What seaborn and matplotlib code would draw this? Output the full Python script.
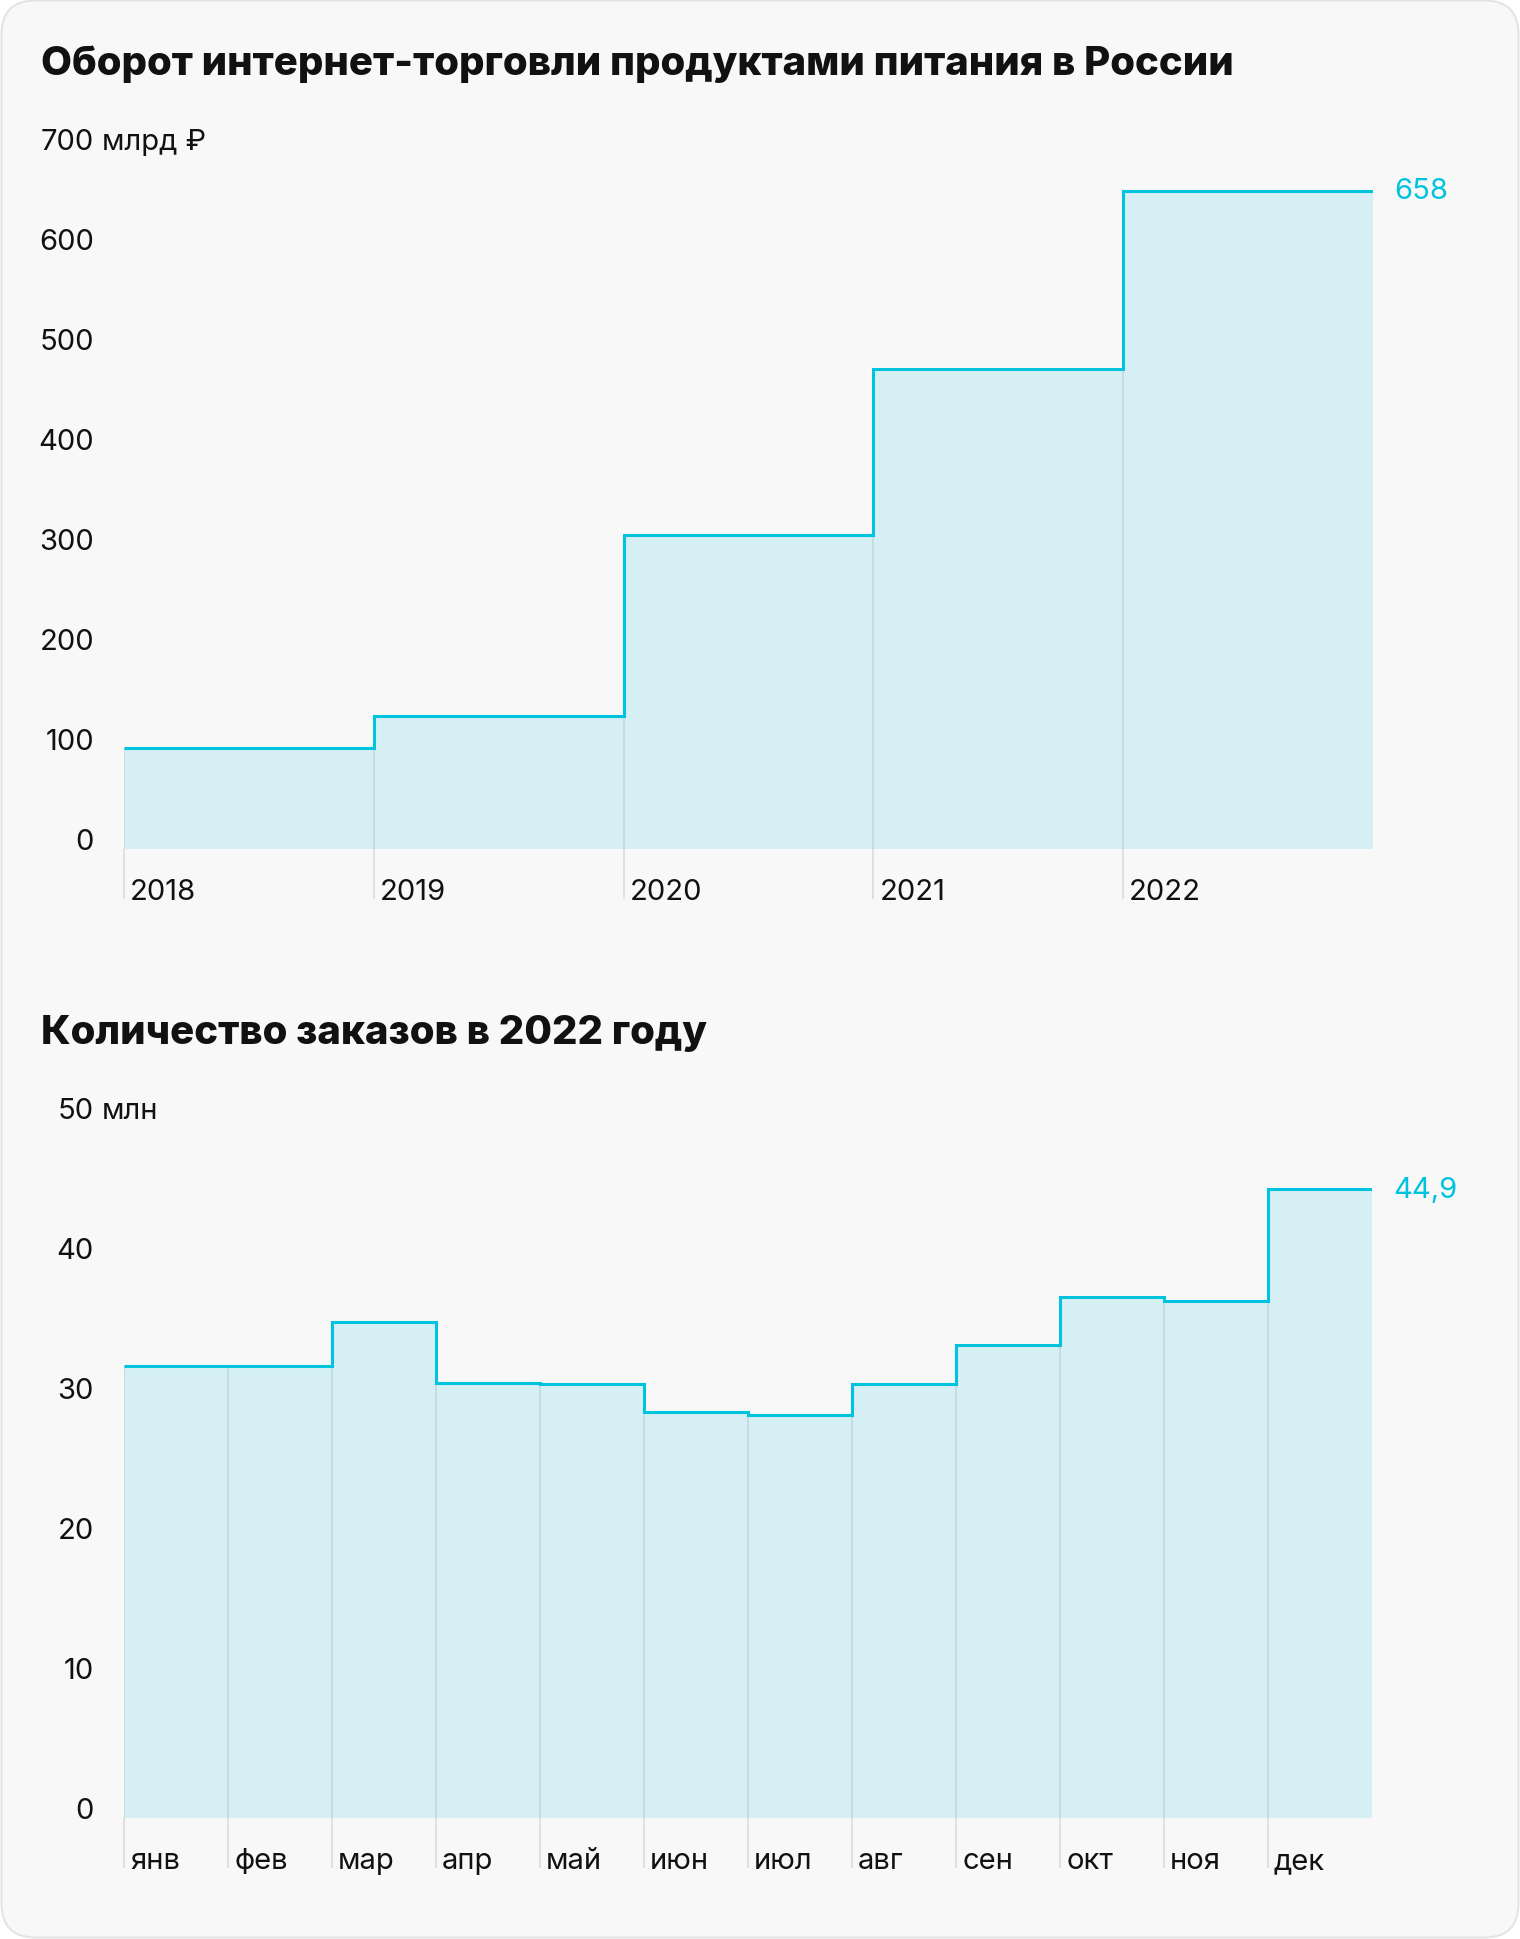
import numpy as np
import pandas as pd
import matplotlib
matplotlib.use("Agg")
import matplotlib.pyplot as plt
import seaborn as sns
from matplotlib.patches import FancyBboxPatch
from matplotlib.transforms import ScaledTranslation, offset_copy, IdentityTransform

# ---------------- data ----------------
title_top = "Оборот интернет-торговли продуктами питания в России"
years = ["2018", "2019", "2020", "2021", "2022"]
turnover = [101, 133, 314, 480, 658]
top_ticks = [0, 100, 200, 300, 400, 500, 600, 700]
top_unit = "млрд ₽"
top_last_label = "658"

title_bottom = "Количество заказов в 2022 году"
months = ["янв", "фев", "мар", "апр", "май", "июн", "июл", "авг", "сен", "окт", "ноя", "дек"]
orders = [32.3, 32.3, 35.4, 31.1, 31.0, 29.0, 28.8, 31.0, 33.8, 37.2, 36.9, 44.9]
bottom_ticks = [0, 10, 20, 30, 40, 50]
bottom_unit = "млн"
bottom_last_label = "44,9"

# ---------------- style ----------------
BG = "#f8f8f8"
BORDER = "#e4e4e4"
LINE = "#00c3dd"
FILL = "#d6eff4"
GRID_IN = "#c4dce1"
TICK = "#dcdcdc"
TXT = "#111111"
LBL = 21

sns.set_theme(style="white")
plt.rcParams["font.family"] = ["Inter", "DejaVu Sans"]

W, H = 1520, 1940
fig = plt.figure(figsize=(W / 100, H / 100), dpi=100)
fig.patch.set_facecolor("white")
card = FancyBboxPatch((1.5, 1.5), W - 3, H - 3,
                      boxstyle="round,pad=0,rounding_size=34",
                      transform=IdentityTransform(),
                      facecolor=BG, edgecolor=BORDER, linewidth=1.5, zorder=-10)
fig.patches.append(card)


def px_axes(left, right, top_px, bottom_px):
    ax = fig.add_axes([left / W, 1 - bottom_px / H, (right - left) / W, (bottom_px - top_px) / H])
    ax.set_zorder(5)
    return ax


def draw(ax, cats, vals, ticks, unit, last_label):
    n = len(vals)
    edges = np.arange(n + 1)
    df = pd.DataFrame({"x": edges, "y": list(vals) + [vals[-1]]})
    ax.patch.set_visible(False)
    ax.fill_between(df["x"], 0, df["y"], step="post", color=FILL, lw=0, zorder=1)
    ax.vlines(np.arange(n), 0, vals, color=GRID_IN, lw=1.3, zorder=2)
    sns.lineplot(data=df, x="x", y="y", drawstyle="steps-post", color=LINE, lw=2.2,
                 ax=ax, zorder=3, solid_joinstyle="miter", solid_capstyle="butt")
    ax.set_xlim(0, n)
    ax.set_ylim(0, ticks[-1])
    ax.set_xlabel("")
    ax.set_ylabel("")
    for s in ax.spines.values():
        s.set_visible(False)

    # y ticks
    ax.set_yticks(ticks)
    ax.set_yticklabels([str(t) for t in ticks])
    ax.tick_params(axis="y", length=0, pad=21.6, labelsize=LBL, labelcolor=TXT)
    for lab in ax.get_yticklabels():
        lab.set_va("baseline")
    ax.text(0, ticks[-1], unit,
            transform=offset_copy(ax.get_yaxis_transform(), fig=fig, x=-22, y=0, units="dots"),
            ha="left", va="baseline", fontsize=LBL, color=TXT)

    # x ticks
    ax.set_xticks(np.arange(n))
    ax.set_xticklabels(cats, ha="left")
    ax.tick_params(axis="x", length=36, width=1.2, color=TICK, direction="out",
                   pad=-14.8, labelsize=LBL, labelcolor=TXT, bottom=True)
    for lab in ax.get_xticklabels():
        lab.set_transform(lab.get_transform() + ScaledTranslation(6 / 100, 0, fig.dpi_scale_trans))

    ax.annotate(last_label, xy=(n, vals[-1]), xytext=(21, 0), textcoords="offset pixels",
                ha="left", va="center", fontsize=LBL, color=LINE)


ax1 = px_axes(124, 1373, 150, 850)
draw(ax1, years, turnover, top_ticks, top_unit, top_last_label)

ax2 = px_axes(124, 1372, 1119, 1819)
draw(ax2, months, orders, bottom_ticks, bottom_unit, bottom_last_label)

fig.text(41 / W, 1 - 64 / H, title_top, fontsize=28.9, fontweight=800, color=TXT,
         ha="left", va="center")
fig.text(41 / W, 1 - 1033 / H, title_bottom, fontsize=28.9, fontweight=800, color=TXT,
         ha="left", va="center")

fig.savefig("out.png", dpi=100, facecolor=fig.get_facecolor())
